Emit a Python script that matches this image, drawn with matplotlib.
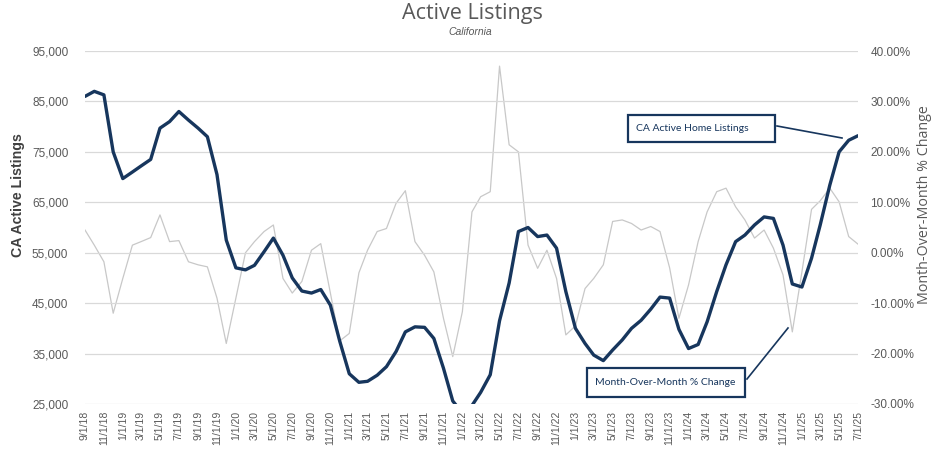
import pandas as pd
import matplotlib
matplotlib.use("Agg")
import matplotlib.pyplot as plt
from matplotlib.patches import Rectangle
from matplotlib.lines import Line2D
from matplotlib.ticker import FuncFormatter

# monthly data, 9/1/18 .. 7/1/25
months = pd.date_range("2018-09-01", "2025-07-01", freq="MS")

listings = [86000, 87000, 86300, 75000, 69700, 71000, 72200, 73500, 79700, 81000,
            83000, 81300, 79700, 78000, 70500, 57500, 52000, 51600, 52500, 55200,
            57900, 54500, 50000, 47400, 47000, 47700, 44600, 37500, 31000, 29300,
            29500, 30700, 32400, 35400, 39300, 40300, 40200, 38000, 32100, 25600,
            23200, 24700, 27300, 30800, 41500, 49000, 59200, 60000, 58200, 58500,
            55900, 47300, 40000, 37000, 34700, 33600, 35700, 37700, 40000, 41600,
            43800, 46200, 46000, 39800, 36000, 36800, 41300, 47300, 52600, 57200,
            58500, 60500, 62100, 61800, 56500, 48800, 48200, 53900, 60500, 68400,
            75000, 77300, 78200]

mom_pct = [4.5, 1.5, -1.8, -12.0, -5.1, 1.5, 2.2, 3.0, 7.5, 2.2,
           2.4, -1.8, -2.4, -2.8, -9.0, -18.0, -9.0, 0.0, 2.2, 4.2,
           5.5, -5.1, -8.0, -5.7, 0.5, 1.8, -8.0, -17.5, -16.0, -4.0,
           0.5, 4.2, 4.8, 9.8, 12.3, 2.2, -0.5, -3.8, -13.0, -20.6,
           -11.7, 8.1, 11.1, 12.1, 37.0, 21.4, 20.0, 1.5, -3.1, 0.5,
           -5.1, -16.3, -14.5, -7.1, -5.1, -2.4, 6.2, 6.5, 5.8, 4.5,
           5.2, 4.2, -3.0, -13.0, -6.4, 2.2, 8.1, 12.1, 12.8, 9.1,
           6.5, 2.9, 4.5, 0.9, -4.4, -15.7, -3.8, 8.6, 10.3, 12.8,
           10.1, 3.2, 1.7]

left_ticks = [25000, 35000, 45000, 55000, 65000, 75000, 85000, 95000]
right_ticks = [-30, -20, -10, 0, 10, 20, 30, 40]
tick_months = months[::2]
tick_labels = [f"{d.month}/1/{d.strftime('%y')}" for d in tick_months]

NAVY = "#17365D"
GRAY_TXT = "#595959"
W, H = 940, 453

fig = plt.figure(figsize=(9.4, 4.53), dpi=100)
ax = fig.add_axes([85 / W, 1 - 404 / H, (858 - 85) / W, (404 - 51) / H])
ax2 = ax.twinx()

ax2.plot(months, mom_pct, color="#C8C8C8", lw=0.9)
ax.plot(months, listings, color=NAVY, lw=2.4, solid_joinstyle="round", solid_capstyle="round")

ax.set_zorder(ax2.get_zorder() + 1)
ax.patch.set_visible(False)

ax.set_ylim(25000, 95000)
ax.set_yticks(left_ticks)
ax.yaxis.set_major_formatter(FuncFormatter(lambda v, p: f"{v:,.0f}"))
ax2.set_ylim(-30, 40)
ax2.set_yticks(right_ticks)
ax2.yaxis.set_major_formatter(FuncFormatter(lambda v, p: f"{v:.2f}%"))

ax.set_xlim(months[0], months[-1])
ax.set_xticks(tick_months)
ax.set_xticklabels(tick_labels, rotation=90)

ax.grid(axis="y", color="#D9D9D9", lw=0.9)
ax.set_axisbelow(True)
for a in (ax, ax2):
    for s in a.spines.values():
        s.set_visible(False)
    a.tick_params(length=0, colors=GRAY_TXT)
for lab in ax.get_yticklabels() + ax2.get_yticklabels():
    lab.set_fontfamily("Liberation Sans")
    lab.set_fontsize(8.5)
for lab in ax.get_xticklabels():
    lab.set_fontfamily("Liberation Sans")
    lab.set_fontsize(7.5)
ax.tick_params(axis="y", pad=12)
ax2.tick_params(axis="y", pad=9)
ax.tick_params(axis="x", pad=5)


def px(x, y):
    return x / W, 1 - y / H


fig.text(*px(472, 13), "Active Listings", ha="center", va="center",
         fontsize=15.5, color=GRAY_TXT, family="Open Sans")
fig.text(*px(470, 32), "California", ha="center", va="center",
         fontsize=7.5, color=GRAY_TXT, style="italic", family="Liberation Sans")
fig.text(*px(18, 195), "CA Active Listings", ha="center", va="center", rotation=90,
         fontsize=10.2, fontweight="bold", color="#404040", family="Liberation Sans")
fig.text(*px(925, 205), "Month-Over-Month % Change", ha="center", va="center", rotation=90,
         fontsize=10.3, color=GRAY_TXT, family="Open Sans")

# callout boxes
boxes = [((628, 115, 775, 142), 636, "CA Active Home Listings", (777, 126), (842, 138)),
         ((587, 368, 745, 397), 595, "Month-Over-Month % Change", (747, 379), (788, 328))]
for (x0, y0, x1, y1), tx, txt, p0, p1 in boxes:
    bx, by = px(x0, y1)
    fig.patches.append(Rectangle((bx, by), (x1 - x0) / W, (y1 - y0) / H,
                                 transform=fig.transFigure, facecolor="white",
                                 edgecolor=NAVY, lw=1.6, zorder=5))
    fig.text(*px(tx, (y0 + y1) / 2), txt, ha="left", va="center", fontsize=7.5,
             color=NAVY, family="Lato", zorder=6)
    fig.lines.append(Line2D([p0[0] / W, p1[0] / W], [1 - p0[1] / H, 1 - p1[1] / H],
                            transform=fig.transFigure, color=NAVY, lw=1.2, zorder=5))

fig.savefig("out.png", dpi=100, facecolor="white")
